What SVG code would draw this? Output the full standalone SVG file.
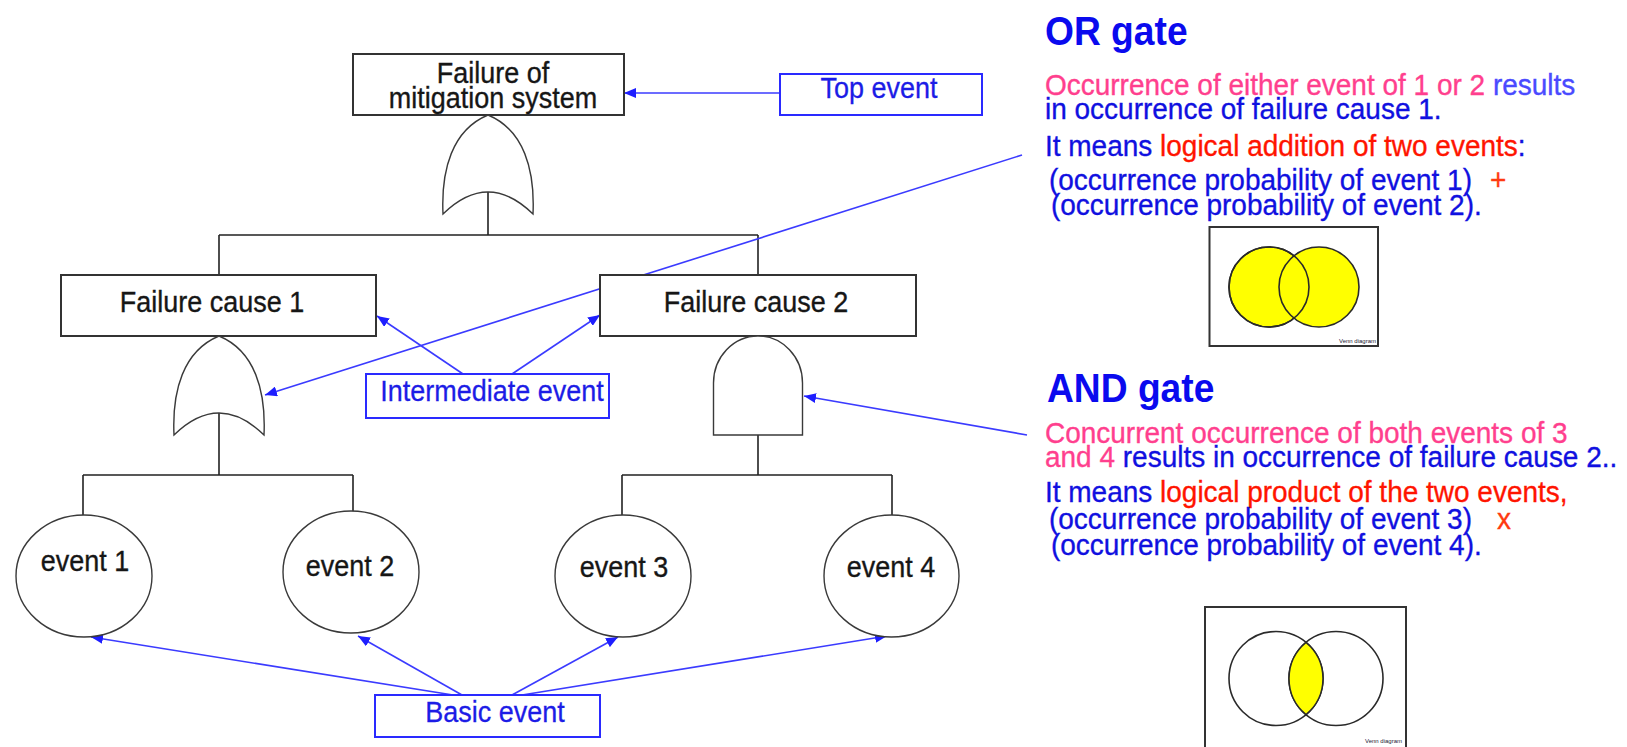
<svg xmlns="http://www.w3.org/2000/svg" width="1627" height="747" viewBox="0 0 1627 747">
  <style>
    .box{fill:#fff;stroke:#333;stroke-width:2}
    .gate{fill:#fff;stroke:#3a3a3a;stroke-width:1.4}
    .wire{fill:none;stroke:#222;stroke-width:1.6}
    .lbl{font-family:"Liberation Sans",Arial,sans-serif;font-size:29px;fill:#161616;stroke:#161616;stroke-width:0.35;text-anchor:middle;transform-box:fill-box;transform-origin:center;transform:scaleX(0.93)}
    .tag{fill:#fff;stroke:#2a2aff;stroke-width:2}
    .tagt{font-family:"Liberation Sans",Arial,sans-serif;font-size:29px;fill:#1c1ce6;stroke:#1c1ce6;stroke-width:0.3;text-anchor:middle;transform-box:fill-box;transform-origin:center;transform:scaleX(0.93)}
    .ptr{fill:none;stroke:#3b3bff;stroke-width:1.6;marker-end:url(#ah)}
    .head{font-family:"Liberation Sans",Arial,sans-serif;font-size:40px;font-weight:bold;fill:#0a0aee;transform-box:fill-box;transform-origin:0 50%;transform:scaleX(0.93)}
    .para{font-family:"Liberation Sans",Arial,sans-serif;font-size:30px;stroke-width:0.35;transform-box:fill-box;transform-origin:0 50%;transform:scaleX(0.933)}
    .b{fill:#1010e0;stroke:#1010e0}
    .lb{fill:#4a4aff;stroke:#4a4aff}
    .p{fill:#ff3f8e;stroke:#ff3f8e}
    .r{fill:#ff1400;stroke:#ff1400}
    .o{fill:#ff3a10;stroke:#ff3a10}
    .venn{fill:#fff;stroke:#333;stroke-width:2}
    .ring{stroke:#2a2a2a;stroke-width:1.6}
    .tiny{font-family:"Liberation Sans",Arial,sans-serif;font-size:6px;fill:#223;text-anchor:end}
  </style>
  <defs>
    <marker id="ah" viewBox="0 0 12 10" refX="12" refY="5" markerWidth="12" markerHeight="10" markerUnits="userSpaceOnUse" orient="auto">
      <path d="M0,0 L12,5 L0,10 Z" fill="#1e1eff"/>
    </marker>
    <!-- OR gate outline, apex at the origin -->
    <path id="orgate" d="M-45,99 C-47,55 -36,15 0,0 C36,15 47,55 45,99 Q0,55 -45,99 Z"/>
  </defs>

  <!-- tree wiring and pointer arrows -->
  <g id="connectors">
    <path class="wire" d="M488,192 V235 M219,235 H758 M219,235 V275 M758,235 V275"/>
    <path class="wire" d="M219,413 V475 M83,475 H353 M83,475 V515 M353,475 V512"/>
    <path class="wire" d="M758,435 V475 M622,475 H892 M622,475 V515 M892,475 V515"/>
    <line class="ptr" x1="780" y1="93" x2="624" y2="93"/>
    <line class="ptr" x1="463" y1="374" x2="377" y2="316"/>
    <line class="ptr" x1="512" y1="374" x2="600" y2="315"/>
    <line class="ptr" x1="1022" y1="155" x2="265" y2="395"/>
    <line class="ptr" x1="1027" y1="435" x2="804" y2="396"/>
    <line class="ptr" x1="453" y1="695" x2="91" y2="637"/>
    <line class="ptr" x1="462" y1="695" x2="358" y2="636"/>
    <line class="ptr" x1="512" y1="695" x2="618" y2="637"/>
    <line class="ptr" x1="522" y1="695" x2="887" y2="636"/>
  </g>

  <!-- fault tree nodes -->
  <g id="top-event">
    <rect class="box" x="353" y="54" width="271" height="61"/>
    <text class="lbl" x="493" y="83">Failure of</text>
    <text class="lbl" x="493" y="108">mitigation system</text>
  </g>
  <g id="or-gate-top">
    <use href="#orgate" class="gate" x="488" y="115"/>
  </g>
  <g id="failure-cause-1">
    <rect class="box" x="61" y="275" width="315" height="61"/>
    <text class="lbl" x="212" y="312">Failure cause 1</text>
  </g>
  <g id="or-gate-1">
    <use href="#orgate" class="gate" x="219" y="336"/>
  </g>
  <g id="failure-cause-2">
    <rect class="box" x="600" y="275" width="316" height="61"/>
    <text class="lbl" x="756" y="312">Failure cause 2</text>
  </g>
  <g id="and-gate-2">
    <path class="gate" d="M713.5,435 V383 A44.5,47 0 0 1 802.5,383 V435 Z"/>
  </g>
  <g id="event-1">
    <ellipse class="gate" cx="84" cy="576" rx="68" ry="61"/>
    <text class="lbl" x="85" y="571">event 1</text>
  </g>
  <g id="event-2">
    <ellipse class="gate" cx="351" cy="572" rx="68" ry="61"/>
    <text class="lbl" x="350" y="576">event 2</text>
  </g>
  <g id="event-3">
    <ellipse class="gate" cx="623" cy="576" rx="68" ry="61"/>
    <text class="lbl" x="624" y="577">event 3</text>
  </g>
  <g id="event-4">
    <ellipse class="gate" cx="891.5" cy="576" rx="67.5" ry="61"/>
    <text class="lbl" x="891" y="577">event 4</text>
  </g>

  <!-- callout labels -->
  <g id="tag-top-event">
    <rect class="tag" x="780" y="74" width="202" height="41"/>
    <text class="tagt" x="879" y="98">Top event</text>
  </g>
  <g id="tag-intermediate">
    <rect class="tag" x="366" y="374" width="243" height="44"/>
    <text class="tagt" x="492" y="401">Intermediate event</text>
  </g>
  <g id="tag-basic">
    <rect class="tag" x="375" y="695" width="225" height="42"/>
    <text class="tagt" x="495" y="722">Basic event</text>
  </g>

  <!-- OR gate explanation -->
  <g id="or-note">
    <text class="head" x="1045" y="45">OR gate</text>
    <text class="para" x="1045" y="95"><tspan class="p">Occurrence of either event of 1 or 2</tspan><tspan class="lb"> results</tspan></text>
    <text class="para b" x="1045" y="119">in occurrence of failure cause 1.</text>
    <text class="para" x="1045" y="156"><tspan class="b">It means </tspan><tspan class="r">logical addition of two events</tspan><tspan class="b">:</tspan></text>
    <text class="para b" x="1049" y="190">(occurrence probability of event 1)</text>
    <text class="para o" x="1490" y="190">+</text>
    <text class="para b" x="1051" y="215">(occurrence probability of event 2).</text>
  </g>
  <g id="or-venn">
    <rect class="venn" x="1209.5" y="227" width="168.5" height="119"/>
    <circle class="ring" cx="1269" cy="287" r="40" fill="#ffff00"/>
    <circle class="ring" cx="1319" cy="287" r="40" fill="#ffff00"/>
    <circle class="ring" cx="1269" cy="287" r="40" fill="none"/>
    <text class="tiny" x="1376" y="343">Venn diagram</text>
  </g>

  <!-- AND gate explanation -->
  <g id="and-note">
    <text class="head" x="1047" y="402">AND gate</text>
    <text class="para p" x="1045" y="443">Concurrent occurrence of both events of 3</text>
    <text class="para" x="1045" y="467"><tspan class="p">and 4</tspan><tspan class="b"> results in occurrence of failure cause 2..</tspan></text>
    <text class="para" x="1045" y="502"><tspan class="b">It means </tspan><tspan class="r">logical product of the two events,</tspan></text>
    <text class="para b" x="1049" y="529">(occurrence probability of event 3)</text>
    <text class="para o" x="1497" y="529">x</text>
    <text class="para b" x="1051" y="555">(occurrence probability of event 4).</text>
  </g>
  <g id="and-venn">
    <rect class="venn" x="1205" y="607" width="201" height="160"/>
    <circle class="ring" cx="1276" cy="678.5" r="47" fill="none"/>
    <circle class="ring" cx="1336" cy="678.5" r="47" fill="none"/>
    <path class="ring" fill="#ffff00" d="M1306,642.3 A47,47 0 0 1 1306,714.7 A47,47 0 0 1 1306,642.3 Z"/>
    <text class="tiny" x="1402" y="743">Venn diagram</text>
  </g>
</svg>
